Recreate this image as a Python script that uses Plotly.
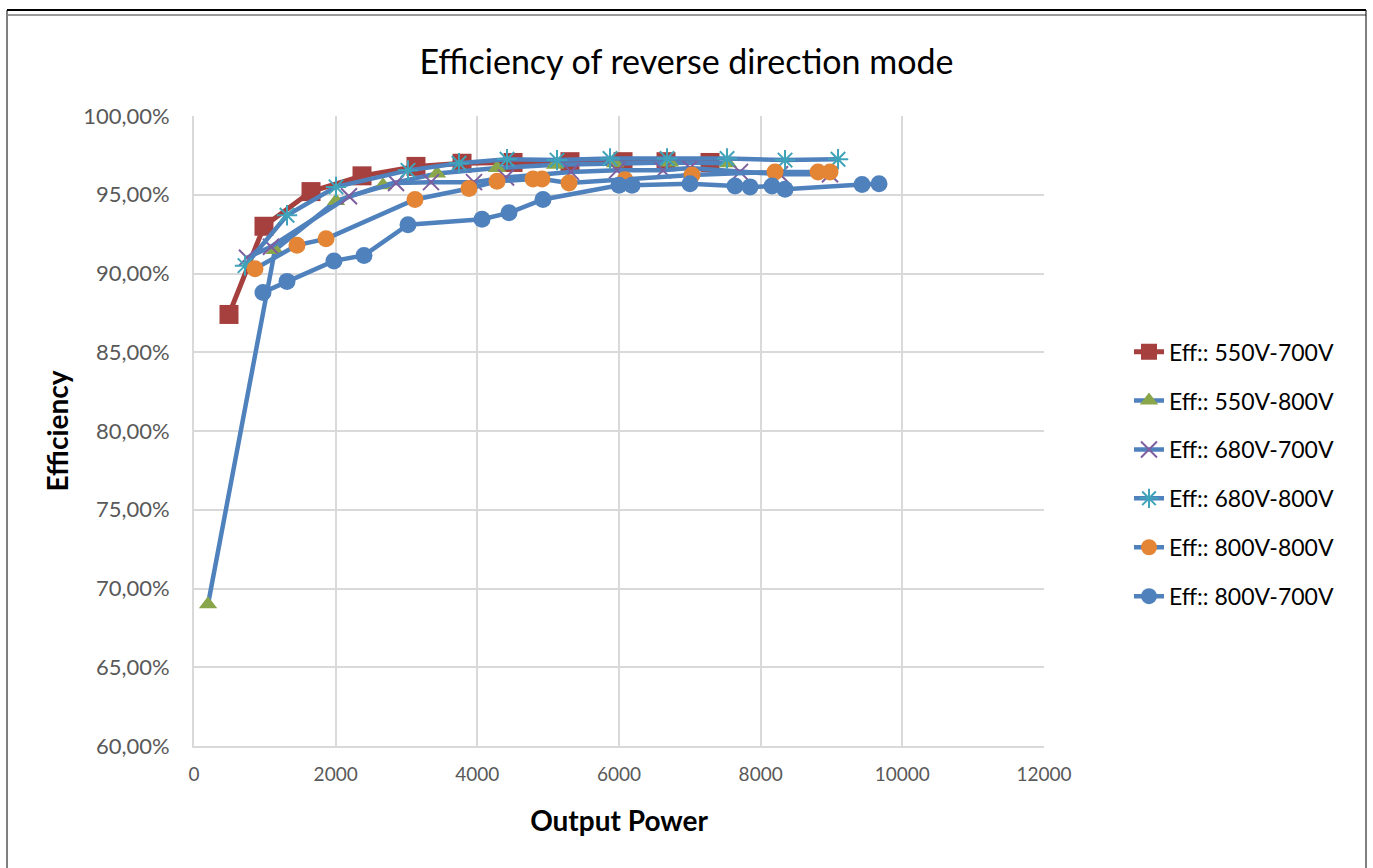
import plotly.graph_objects as go

# output power (W) and efficiency (%) per voltage pair
power_550_700 = [494, 988, 1652, 2372, 3134, 3784, 4504, 5308, 6057, 6664, 7285]
eff_550_700 = [87.4, 93.0, 95.2, 96.2, 96.8, 97.0, 97.05, 97.1, 97.1, 97.1, 97.05]

power_550_800 = [198, 1143, 2005, 2668, 3431, 4278, 5097, 5944, 6720, 7539]
eff_550_800 = [69.0, 91.5, 94.6, 95.6, 96.35, 96.7, 96.9, 97.0, 97.05, 97.0]

power_680_700 = [748, 1087, 2188, 2852, 3346, 3953, 4405, 5322, 5972, 6621, 7002, 7708, 8273, 8979]
eff_680_700 = [91.0, 91.7, 94.9, 95.75, 95.8, 95.8, 96.1, 96.45, 96.55, 96.55, 96.7, 96.45, 96.3, 96.3]

power_680_800 = [720, 1313, 2005, 3021, 3741, 4419, 5125, 5873, 6678, 7525, 8344, 9092]
eff_680_800 = [90.5, 93.7, 95.5, 96.55, 97.0, 97.25, 97.2, 97.3, 97.3, 97.3, 97.2, 97.25]

power_800_800 = [861, 1454, 1864, 3120, 3882, 4278, 4786, 4913, 5294, 6085, 7031, 8202, 8810, 8979]
eff_800_800 = [90.3, 91.8, 92.2, 94.7, 95.4, 95.85, 96.0, 96.0, 95.75, 95.95, 96.25, 96.45, 96.45, 96.45]

power_800_700 = [974, 1313, 1976, 2400, 3021, 4066, 4447, 4927, 6000, 6184, 7002, 7638, 7850, 8160, 8344, 9431, 9671]
eff_800_700 = [88.8, 89.5, 90.8, 91.15, 93.1, 93.45, 93.85, 94.7, 95.6, 95.6, 95.7, 95.55, 95.5, 95.55, 95.35, 95.65, 95.7]

BLUE = '#4F81BD'
FONT = 'Lato'

series = [
    ('Eff:: 550V-700V', power_550_700, eff_550_700, '#A5403E',
     dict(symbol='square', size=19, color='#A5403E'), 5),
    ('Eff:: 550V-800V', power_550_800, eff_550_800, BLUE,
     dict(symbol='triangle-up', size=16, color='#8AA64A'), 4.5),
    ('Eff:: 680V-700V', power_680_700, eff_680_700, BLUE,
     dict(symbol='x-thin-open', size=16, color='#7E5E9E', line=dict(width=2, color='#7E5E9E')), 4.5),
    ('Eff:: 680V-800V', power_680_800, eff_680_800, BLUE,
     dict(symbol='asterisk-open', size=17, color='#3FA4B9', line=dict(width=2, color='#3FA4B9')), 4.5),
    ('Eff:: 800V-800V', power_800_800, eff_800_800, BLUE,
     dict(symbol='circle', size=17, color='#E48535'), 4.5),
    ('Eff:: 800V-700V', power_800_700, eff_800_700, BLUE,
     dict(symbol='circle', size=17, color=BLUE), 4.5),
]

fig = go.Figure()
for i, (name, xs, ys, lc, mk, lw) in enumerate(series):
    fig.add_trace(go.Scatter(
        x=xs, y=[v / 100 for v in ys], name=name, mode='lines+markers',
        line=dict(color=lc, width=lw), marker=mk,
        legendgroup=f'g{i}',
    ))

# frame around the chart
fig.add_shape(type='line', xref='paper', yref='paper',
              x0=(7 - 194) / 850, x1=(1366 - 194) / 850, y0=(746 - 10) / 630, y1=(746 - 10) / 630,
              line=dict(color='black', width=2))
fig.add_shape(type='line', xref='paper', yref='paper',
              x0=(8 - 194) / 850, x1=(1366 - 194) / 850, y0=(746 - 15) / 630, y1=(746 - 15) / 630,
              line=dict(color='#9A9A9A', width=2))
for px in (7, 1366):
    fig.add_shape(type='line', xref='paper', yref='paper',
                  x0=(px - 194) / 850, x1=(px - 194) / 850, y0=(746 - 10) / 630, y1=(746 - 870) / 630,
                  line=dict(color='black', width=1))

fig.update_layout(
    width=1373, height=868,
    margin=dict(l=194, r=329, t=116, b=122),
    paper_bgcolor='white', plot_bgcolor='white',
    separators=',.',
    font=dict(family=FONT, color='black'),
    title=dict(text='Efficiency of reverse direction mode', x=0.5, xref='container',
               xanchor='center', y=1 - 62 / 868, yanchor='middle',
               font=dict(size=34, family=FONT, color='black')),
    legend=dict(x=1.1, y=0.66, xanchor='left', yanchor='top',
                font=dict(size=23, family=FONT, color='black'),
                tracegroupgap=16, bgcolor='rgba(0,0,0,0)'),
    xaxis=dict(range=[0, 12000], dtick=2000, tickformat='d',
               showgrid=True, gridcolor='#D9D9D9', gridwidth=2,
               showline=True, linecolor='#D9D9D9', linewidth=2, mirror=False,
               zeroline=False, ticks='', ticklabelstandoff=10,
               tickfont=dict(size=19, color='#595959', family=FONT),
               title=dict(text='<b>Output Power</b>', font=dict(size=28, family=FONT), standoff=28)),
    yaxis=dict(range=[0.60, 1.00], dtick=0.05, tickformat='.2%',
               showgrid=True, gridcolor='#D9D9D9', gridwidth=2,
               showline=True, linecolor='#D9D9D9', linewidth=2,
               zeroline=False, ticks='', ticklabelstandoff=18,
               tickfont=dict(size=22, color='#595959', family=FONT),
               title=dict(text='<b>Efficiency</b>', font=dict(size=28, family=FONT), standoff=6)),
)

fig.write_html("out.html", config={'displayModeBar': False},
               post_script="document.body.style.margin='0';document.body.style.overflow='hidden';")
